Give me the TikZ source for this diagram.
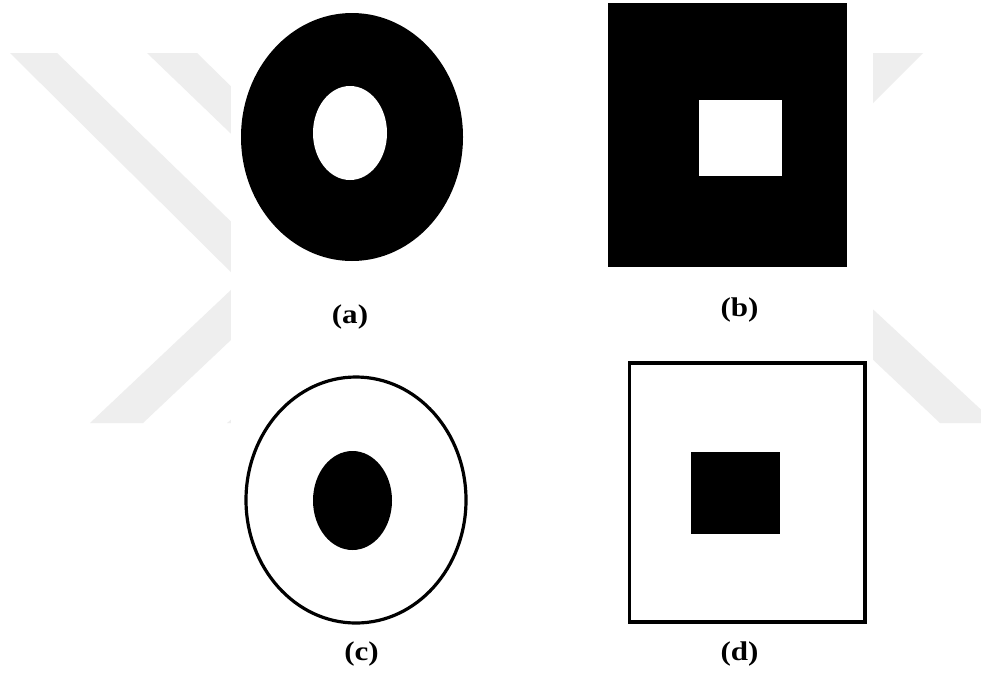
\documentclass[tikz,border=0pt]{standalone}
\usepackage{fontspec}
\setmainfont{Liberation Serif}[BoldFont={Liberation Serif Bold}]
\definecolor{wm}{HTML}{EEEEEE}
\tikzset{
  wmark/.style={fill=wm, draw=none},
  solid/.style={fill=black, draw=none},
  hole/.style={fill=white, draw=none},
  outline/.style={draw=black, line width=3.2pt, fill=none},
  caption/.style={inner sep=0pt, font=\bfseries\fontsize{27}{27}\selectfont}
}
\begin{document}
\begin{tikzpicture}[x=1pt, y=-1pt]
\useasboundingbox (0,0) rectangle (981,675);
\fill[white] (0,0) rectangle (981,675);
% watermark (left)
\fill[wmark] (10,53) -- (57,53) -- (250,240) -- (250,291) -- cycle;
\fill[wmark] (147,53) -- (197,53) -- (250,105) -- (250,152) -- cycle;
\fill[wmark] (90,423) -- (143,423) -- (250,322) -- (250,272) -- cycle;
\fill[wmark] (227,423) -- (280,423) -- (300,404) -- (250,404) -- cycle;
% watermark (right)
\fill[wmark] (923,53) -- (873,53) -- (850,76) -- (850,126) -- cycle;
\fill[wmark] (850,288) -- (850,338) -- (940,423) -- (990,423) -- (990,418) -- cycle;
% white panel
\fill[white] (231,0) rectangle (873,675);
% (a)
\fill[solid] (352,137) ellipse [x radius=111, y radius=124];
\fill[hole] (350,133) ellipse [x radius=37, y radius=47];
% (b)
\fill[solid] (608,3) rectangle (847,267);
\fill[hole] (699,100) rectangle (782,176);
% (c)
\draw[outline] (356,500) ellipse [x radius=110, y radius=123];
\fill[solid] (352.5,500.5) ellipse [x radius=39.5, y radius=49.5];
% (d)
\draw[outline] (629.5,363) rectangle (865,622);
\fill[solid] (691,452) rectangle (780,534);
% captions
\node[caption] (la) at (350,317) {\scalebox{1.15}[1]{(a)}};
\node[caption] (lb) at (739.5,310) {\scalebox{1.15}[1]{(b)}};
\node[caption] (lc) at (361.5,653.5) {\scalebox{1.15}[1]{(c)}};
\node[caption] (ld) at (739.5,653.5) {\scalebox{1.15}[1]{(d)}};
\end{tikzpicture}
\end{document}
